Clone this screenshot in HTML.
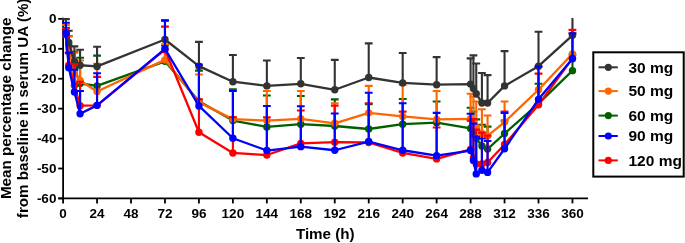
<!DOCTYPE html>
<html><head><meta charset="utf-8"><style>
html,body{margin:0;padding:0;background:#fff;overflow:hidden;width:685px;height:243px;}
svg{display:block;will-change:transform;}
text{font-family:"Liberation Sans",sans-serif;font-weight:bold;fill:#000;}
.tl{font-size:13.5px;}
.tt{font-size:15.2px;}
.lt{font-size:15.5px;}
</style></head><body>
<svg width="685" height="243" viewBox="0 0 685 243">
<path d="M63.10 17.85V198.43" stroke="#000" stroke-width="1.8"/>
<path d="M58.2 198.43H588" stroke="#000" stroke-width="1.8"/>
<path d="M58.2 18.85H63.10" stroke="#000" stroke-width="1.8"/>
<text x="56.4" y="23.05" text-anchor="end" class="tl">0</text>
<path d="M58.2 48.78H63.10" stroke="#000" stroke-width="1.8"/>
<text x="56.4" y="52.98" text-anchor="end" class="tl">-10</text>
<path d="M58.2 78.71H63.10" stroke="#000" stroke-width="1.8"/>
<text x="56.4" y="82.91" text-anchor="end" class="tl">-20</text>
<path d="M58.2 108.64H63.10" stroke="#000" stroke-width="1.8"/>
<text x="56.4" y="112.84" text-anchor="end" class="tl">-30</text>
<path d="M58.2 138.57H63.10" stroke="#000" stroke-width="1.8"/>
<text x="56.4" y="142.77" text-anchor="end" class="tl">-40</text>
<path d="M58.2 168.50H63.10" stroke="#000" stroke-width="1.8"/>
<text x="56.4" y="172.70" text-anchor="end" class="tl">-50</text>
<path d="M58.2 198.43H63.10" stroke="#000" stroke-width="1.8"/>
<text x="56.4" y="202.63" text-anchor="end" class="tl">-60</text>
<path d="M63.10 198.43V203.4" stroke="#000" stroke-width="1.8"/>
<text x="63.10" y="217.8" text-anchor="middle" class="tl">0</text>
<path d="M97.06 198.43V203.4" stroke="#000" stroke-width="1.8"/>
<text x="97.06" y="217.8" text-anchor="middle" class="tl">24</text>
<path d="M131.02 198.43V203.4" stroke="#000" stroke-width="1.8"/>
<text x="131.02" y="217.8" text-anchor="middle" class="tl">48</text>
<path d="M164.97 198.43V203.4" stroke="#000" stroke-width="1.8"/>
<text x="164.97" y="217.8" text-anchor="middle" class="tl">72</text>
<path d="M198.93 198.43V203.4" stroke="#000" stroke-width="1.8"/>
<text x="198.93" y="217.8" text-anchor="middle" class="tl">96</text>
<path d="M232.89 198.43V203.4" stroke="#000" stroke-width="1.8"/>
<text x="232.89" y="217.8" text-anchor="middle" class="tl">120</text>
<path d="M266.85 198.43V203.4" stroke="#000" stroke-width="1.8"/>
<text x="266.85" y="217.8" text-anchor="middle" class="tl">144</text>
<path d="M300.80 198.43V203.4" stroke="#000" stroke-width="1.8"/>
<text x="300.80" y="217.8" text-anchor="middle" class="tl">168</text>
<path d="M334.76 198.43V203.4" stroke="#000" stroke-width="1.8"/>
<text x="334.76" y="217.8" text-anchor="middle" class="tl">192</text>
<path d="M368.72 198.43V203.4" stroke="#000" stroke-width="1.8"/>
<text x="368.72" y="217.8" text-anchor="middle" class="tl">216</text>
<path d="M402.68 198.43V203.4" stroke="#000" stroke-width="1.8"/>
<text x="402.68" y="217.8" text-anchor="middle" class="tl">240</text>
<path d="M436.63 198.43V203.4" stroke="#000" stroke-width="1.8"/>
<text x="436.63" y="217.8" text-anchor="middle" class="tl">264</text>
<path d="M470.59 198.43V203.4" stroke="#000" stroke-width="1.8"/>
<text x="470.59" y="217.8" text-anchor="middle" class="tl">288</text>
<path d="M504.55 198.43V203.4" stroke="#000" stroke-width="1.8"/>
<text x="504.55" y="217.8" text-anchor="middle" class="tl">312</text>
<path d="M538.51 198.43V203.4" stroke="#000" stroke-width="1.8"/>
<text x="538.51" y="217.8" text-anchor="middle" class="tl">336</text>
<path d="M572.46 198.43V203.4" stroke="#000" stroke-width="1.8"/>
<text x="572.46" y="217.8" text-anchor="middle" class="tl">360</text>
<text x="325.3" y="239.3" text-anchor="middle" class="tt">Time (h)</text>
<text transform="translate(10.9 108.3) rotate(-90)" text-anchor="middle" class="tt">Mean percentage change</text>
<text transform="translate(28.1 108.3) rotate(-90)" text-anchor="middle" class="tt">from baseline in serum UA (%)</text>
<defs><clipPath id="pc"><rect x="0" y="18.0" width="600" height="200"/></clipPath></defs>
<g clip-path="url(#pc)">
<g stroke="#006000" fill="#006000">
<path d="M65.93 33.81V27.83M62.03 27.83H69.83" stroke-width="2.1" fill="none"/>
<path d="M68.76 45.79V36.21M64.86 36.21H72.66" stroke-width="2.1" fill="none"/>
<path d="M74.42 68.23V51.77M70.52 51.77H78.32" stroke-width="2.1" fill="none"/>
<path d="M80.08 83.50V57.76M76.18 57.76H83.98" stroke-width="2.1" fill="none"/>
<path d="M97.06 85.89V55.66M93.16 55.66H100.96" stroke-width="2.1" fill="none"/>
<path d="M164.97 61.35V45.49M161.07 45.49H168.87" stroke-width="2.1" fill="none"/>
<path d="M198.93 101.16V70.63M195.03 70.63H202.83" stroke-width="2.1" fill="none"/>
<path d="M232.89 120.61V89.19M228.99 89.19H236.79" stroke-width="2.1" fill="none"/>
<path d="M266.85 126.90V95.47M262.95 95.47H270.75" stroke-width="2.1" fill="none"/>
<path d="M300.80 124.20V96.07M296.90 96.07H304.70" stroke-width="2.1" fill="none"/>
<path d="M334.76 126.00V99.36M330.86 99.36H338.66" stroke-width="2.1" fill="none"/>
<path d="M368.72 128.99V104.15M364.82 104.15H372.62" stroke-width="2.1" fill="none"/>
<path d="M402.68 124.20V99.06M398.78 99.06H406.58" stroke-width="2.1" fill="none"/>
<path d="M436.63 122.71V101.46M432.73 101.46H440.53" stroke-width="2.1" fill="none"/>
<path d="M470.59 128.39V107.74M466.69 107.74H474.49" stroke-width="2.1" fill="none"/>
<path d="M473.42 134.08V111.63M469.52 111.63H477.32" stroke-width="2.1" fill="none"/>
<path d="M476.25 138.57V119.41M472.35 119.41H480.15" stroke-width="2.1" fill="none"/>
<path d="M481.91 146.05V124.80M478.01 124.80H485.81" stroke-width="2.1" fill="none"/>
<path d="M487.57 149.05V126.60M483.67 126.60H491.47" stroke-width="2.1" fill="none"/>
<path d="M504.55 133.48V120.61M500.65 120.61H508.45" stroke-width="2.1" fill="none"/>
<path d="M538.51 103.55V83.80M534.61 83.80H542.41" stroke-width="2.1" fill="none"/>
<path d="M572.46 70.63V54.77M568.56 54.77H576.36" stroke-width="2.1" fill="none"/>
<polyline points="65.93,33.81 68.76,45.79 74.42,68.23 80.08,83.50 97.06,85.89 164.97,61.35 198.93,101.16 232.89,120.61 266.85,126.90 300.80,124.20 334.76,126.00 368.72,128.99 402.68,124.20 436.63,122.71 470.59,128.39 473.42,134.08 476.25,138.57 481.91,146.05 487.57,149.05 504.55,133.48 538.51,103.55 572.46,70.63" stroke-width="2.3" fill="none" stroke-linejoin="round"/>
<circle cx="65.93" cy="33.81" r="3.7" stroke="none"/>
<circle cx="68.76" cy="45.79" r="3.7" stroke="none"/>
<circle cx="74.42" cy="68.23" r="3.7" stroke="none"/>
<circle cx="80.08" cy="83.50" r="3.7" stroke="none"/>
<circle cx="97.06" cy="85.89" r="3.7" stroke="none"/>
<circle cx="164.97" cy="61.35" r="3.7" stroke="none"/>
<circle cx="198.93" cy="101.16" r="3.7" stroke="none"/>
<circle cx="232.89" cy="120.61" r="3.7" stroke="none"/>
<circle cx="266.85" cy="126.90" r="3.7" stroke="none"/>
<circle cx="300.80" cy="124.20" r="3.7" stroke="none"/>
<circle cx="334.76" cy="126.00" r="3.7" stroke="none"/>
<circle cx="368.72" cy="128.99" r="3.7" stroke="none"/>
<circle cx="402.68" cy="124.20" r="3.7" stroke="none"/>
<circle cx="436.63" cy="122.71" r="3.7" stroke="none"/>
<circle cx="470.59" cy="128.39" r="3.7" stroke="none"/>
<circle cx="473.42" cy="134.08" r="3.7" stroke="none"/>
<circle cx="476.25" cy="138.57" r="3.7" stroke="none"/>
<circle cx="481.91" cy="146.05" r="3.7" stroke="none"/>
<circle cx="487.57" cy="149.05" r="3.7" stroke="none"/>
<circle cx="504.55" cy="133.48" r="3.7" stroke="none"/>
<circle cx="538.51" cy="103.55" r="3.7" stroke="none"/>
<circle cx="572.46" cy="70.63" r="3.7" stroke="none"/>
</g>
<g stroke="#ff6600" fill="#ff6600">
<path d="M65.93 33.81V24.84M62.03 24.84H69.83" stroke-width="2.1" fill="none"/>
<path d="M68.76 48.78V36.21M64.86 36.21H72.66" stroke-width="2.1" fill="none"/>
<path d="M74.42 72.72V52.67M70.52 52.67H78.32" stroke-width="2.1" fill="none"/>
<path d="M80.08 80.51V60.45M76.18 60.45H83.98" stroke-width="2.1" fill="none"/>
<path d="M97.06 91.58V63.74M93.16 63.74H100.96" stroke-width="2.1" fill="none"/>
<path d="M164.97 59.85V44.29M161.07 44.29H168.87" stroke-width="2.1" fill="none"/>
<path d="M198.93 102.35V74.52M195.03 74.52H202.83" stroke-width="2.1" fill="none"/>
<path d="M232.89 119.12V117.32M228.99 117.32H236.79" stroke-width="2.1" fill="none"/>
<path d="M266.85 120.61V90.98M262.95 90.98H270.75" stroke-width="2.1" fill="none"/>
<path d="M300.80 118.82V90.98M296.90 90.98H304.70" stroke-width="2.1" fill="none"/>
<path d="M334.76 123.31V103.25M330.86 103.25H338.66" stroke-width="2.1" fill="none"/>
<path d="M368.72 112.83V85.89M364.82 85.89H372.62" stroke-width="2.1" fill="none"/>
<path d="M402.68 116.42V84.70M398.78 84.70H406.58" stroke-width="2.1" fill="none"/>
<path d="M436.63 119.41V90.98M432.73 90.98H440.53" stroke-width="2.1" fill="none"/>
<path d="M470.59 118.82V93.68M466.69 93.68H474.49" stroke-width="2.1" fill="none"/>
<path d="M473.42 123.60V96.67M469.52 96.67H477.32" stroke-width="2.1" fill="none"/>
<path d="M476.25 127.20V101.46M472.35 101.46H480.15" stroke-width="2.1" fill="none"/>
<path d="M481.91 133.48V109.24M478.01 109.24H485.81" stroke-width="2.1" fill="none"/>
<path d="M487.57 135.88V115.52M483.67 115.52H491.47" stroke-width="2.1" fill="none"/>
<path d="M504.55 122.11V101.46M500.65 101.46H508.45" stroke-width="2.1" fill="none"/>
<path d="M538.51 89.78V66.74M534.61 66.74H542.41" stroke-width="2.1" fill="none"/>
<path d="M572.46 53.87V33.81M568.56 33.81H576.36" stroke-width="2.1" fill="none"/>
<polyline points="65.93,33.81 68.76,48.78 74.42,72.72 80.08,80.51 97.06,91.58 164.97,59.85 198.93,102.35 232.89,119.12 266.85,120.61 300.80,118.82 334.76,123.31 368.72,112.83 402.68,116.42 436.63,119.41 470.59,118.82 473.42,123.60 476.25,127.20 481.91,133.48 487.57,135.88 504.55,122.11 538.51,89.78 572.46,53.87" stroke-width="2.3" fill="none" stroke-linejoin="round"/>
<circle cx="65.93" cy="33.81" r="3.7" stroke="none"/>
<circle cx="68.76" cy="48.78" r="3.7" stroke="none"/>
<circle cx="74.42" cy="72.72" r="3.7" stroke="none"/>
<circle cx="80.08" cy="80.51" r="3.7" stroke="none"/>
<circle cx="97.06" cy="91.58" r="3.7" stroke="none"/>
<circle cx="164.97" cy="59.85" r="3.7" stroke="none"/>
<circle cx="198.93" cy="102.35" r="3.7" stroke="none"/>
<circle cx="232.89" cy="119.12" r="3.7" stroke="none"/>
<circle cx="266.85" cy="120.61" r="3.7" stroke="none"/>
<circle cx="300.80" cy="118.82" r="3.7" stroke="none"/>
<circle cx="334.76" cy="123.31" r="3.7" stroke="none"/>
<circle cx="368.72" cy="112.83" r="3.7" stroke="none"/>
<circle cx="402.68" cy="116.42" r="3.7" stroke="none"/>
<circle cx="436.63" cy="119.41" r="3.7" stroke="none"/>
<circle cx="470.59" cy="118.82" r="3.7" stroke="none"/>
<circle cx="473.42" cy="123.60" r="3.7" stroke="none"/>
<circle cx="476.25" cy="127.20" r="3.7" stroke="none"/>
<circle cx="481.91" cy="133.48" r="3.7" stroke="none"/>
<circle cx="487.57" cy="135.88" r="3.7" stroke="none"/>
<circle cx="504.55" cy="122.11" r="3.7" stroke="none"/>
<circle cx="538.51" cy="89.78" r="3.7" stroke="none"/>
<circle cx="572.46" cy="53.87" r="3.7" stroke="none"/>
</g>
<g stroke="#333333" fill="#333333">
<path d="M65.93 32.32V19.15M62.03 19.15H69.83" stroke-width="2.1" fill="none"/>
<path d="M68.76 42.49V30.82M64.86 30.82H72.66" stroke-width="2.1" fill="none"/>
<path d="M74.42 61.65V46.39M70.52 46.39H78.32" stroke-width="2.1" fill="none"/>
<path d="M80.08 65.24V49.68M76.18 49.68H83.98" stroke-width="2.1" fill="none"/>
<path d="M97.06 66.44V46.68M93.16 46.68H100.96" stroke-width="2.1" fill="none"/>
<path d="M164.97 39.50V20.65M161.07 20.65H168.87" stroke-width="2.1" fill="none"/>
<path d="M198.93 66.14V41.90M195.03 41.90H202.83" stroke-width="2.1" fill="none"/>
<path d="M232.89 81.70V55.07M228.99 55.07H236.79" stroke-width="2.1" fill="none"/>
<path d="M266.85 85.89V60.45M262.95 60.45H270.75" stroke-width="2.1" fill="none"/>
<path d="M300.80 83.80V58.06M296.90 58.06H304.70" stroke-width="2.1" fill="none"/>
<path d="M334.76 89.78V59.85M330.86 59.85H338.66" stroke-width="2.1" fill="none"/>
<path d="M368.72 77.51V43.39M364.82 43.39H372.62" stroke-width="2.1" fill="none"/>
<path d="M402.68 82.90V52.97M398.78 52.97H406.58" stroke-width="2.1" fill="none"/>
<path d="M436.63 84.70V57.16M432.73 57.16H440.53" stroke-width="2.1" fill="none"/>
<path d="M470.59 84.10V58.36M466.69 58.36H474.49" stroke-width="2.1" fill="none"/>
<path d="M473.42 88.59V55.36M469.52 55.36H477.32" stroke-width="2.1" fill="none"/>
<path d="M476.25 93.68V63.45M472.35 63.45H480.15" stroke-width="2.1" fill="none"/>
<path d="M481.91 102.95V73.02M478.01 73.02H485.81" stroke-width="2.1" fill="none"/>
<path d="M487.57 102.95V75.12M483.67 75.12H491.47" stroke-width="2.1" fill="none"/>
<path d="M504.55 85.89V51.17M500.65 51.17H508.45" stroke-width="2.1" fill="none"/>
<path d="M538.51 66.14V31.72M534.61 31.72H542.41" stroke-width="2.1" fill="none"/>
<path d="M572.46 35.31V9.87M568.56 9.87H576.36" stroke-width="2.1" fill="none"/>
<polyline points="65.93,32.32 68.76,42.49 74.42,61.65 80.08,65.24 97.06,66.44 164.97,39.50 198.93,66.14 232.89,81.70 266.85,85.89 300.80,83.80 334.76,89.78 368.72,77.51 402.68,82.90 436.63,84.70 470.59,84.10 473.42,88.59 476.25,93.68 481.91,102.95 487.57,102.95 504.55,85.89 538.51,66.14 572.46,35.31" stroke-width="2.3" fill="none" stroke-linejoin="round"/>
<circle cx="65.93" cy="32.32" r="3.7" stroke="none"/>
<circle cx="68.76" cy="42.49" r="3.7" stroke="none"/>
<circle cx="74.42" cy="61.65" r="3.7" stroke="none"/>
<circle cx="80.08" cy="65.24" r="3.7" stroke="none"/>
<circle cx="97.06" cy="66.44" r="3.7" stroke="none"/>
<circle cx="164.97" cy="39.50" r="3.7" stroke="none"/>
<circle cx="198.93" cy="66.14" r="3.7" stroke="none"/>
<circle cx="232.89" cy="81.70" r="3.7" stroke="none"/>
<circle cx="266.85" cy="85.89" r="3.7" stroke="none"/>
<circle cx="300.80" cy="83.80" r="3.7" stroke="none"/>
<circle cx="334.76" cy="89.78" r="3.7" stroke="none"/>
<circle cx="368.72" cy="77.51" r="3.7" stroke="none"/>
<circle cx="402.68" cy="82.90" r="3.7" stroke="none"/>
<circle cx="436.63" cy="84.70" r="3.7" stroke="none"/>
<circle cx="470.59" cy="84.10" r="3.7" stroke="none"/>
<circle cx="473.42" cy="88.59" r="3.7" stroke="none"/>
<circle cx="476.25" cy="93.68" r="3.7" stroke="none"/>
<circle cx="481.91" cy="102.95" r="3.7" stroke="none"/>
<circle cx="487.57" cy="102.95" r="3.7" stroke="none"/>
<circle cx="504.55" cy="85.89" r="3.7" stroke="none"/>
<circle cx="538.51" cy="66.14" r="3.7" stroke="none"/>
<circle cx="572.46" cy="35.31" r="3.7" stroke="none"/>
</g>
<g stroke="#ff0000" fill="#ff0000">
<path d="M65.93 34.71V28.43M62.03 28.43H69.83" stroke-width="2.1" fill="none"/>
<path d="M68.76 65.24V53.27M64.86 53.27H72.66" stroke-width="2.1" fill="none"/>
<path d="M74.42 85.59V64.34M70.52 64.34H78.32" stroke-width="2.1" fill="none"/>
<path d="M80.08 105.65V81.70M76.18 81.70H83.98" stroke-width="2.1" fill="none"/>
<path d="M97.06 105.35V76.91M93.16 76.91H100.96" stroke-width="2.1" fill="none"/>
<path d="M164.97 49.68V26.63M161.07 26.63H168.87" stroke-width="2.1" fill="none"/>
<path d="M198.93 132.28V99.36M195.03 99.36H202.83" stroke-width="2.1" fill="none"/>
<path d="M232.89 152.94V117.32M228.99 117.32H236.79" stroke-width="2.1" fill="none"/>
<path d="M266.85 155.03V117.32M262.95 117.32H270.75" stroke-width="2.1" fill="none"/>
<path d="M300.80 143.36V110.44M296.90 110.44H304.70" stroke-width="2.1" fill="none"/>
<path d="M334.76 142.16V105.65M330.86 105.65H338.66" stroke-width="2.1" fill="none"/>
<path d="M368.72 142.46V103.25M364.82 103.25H372.62" stroke-width="2.1" fill="none"/>
<path d="M402.68 152.94V111.63M398.78 111.63H406.58" stroke-width="2.1" fill="none"/>
<path d="M436.63 158.92V127.50M432.73 127.50H440.53" stroke-width="2.1" fill="none"/>
<path d="M470.59 149.34V120.61M466.69 120.61H474.49" stroke-width="2.1" fill="none"/>
<path d="M473.42 158.02V119.12M469.52 119.12H477.32" stroke-width="2.1" fill="none"/>
<path d="M476.25 164.01V129.59M472.35 129.59H480.15" stroke-width="2.1" fill="none"/>
<path d="M481.91 164.01V132.58M478.01 132.58H485.81" stroke-width="2.1" fill="none"/>
<path d="M487.57 162.51V135.58M483.67 135.58H491.47" stroke-width="2.1" fill="none"/>
<path d="M504.55 144.56V111.63M500.65 111.63H508.45" stroke-width="2.1" fill="none"/>
<path d="M538.51 104.75V73.62M534.61 73.62H542.41" stroke-width="2.1" fill="none"/>
<path d="M572.46 58.36V29.92M568.56 29.92H576.36" stroke-width="2.1" fill="none"/>
<polyline points="65.93,34.71 68.76,65.24 74.42,85.59 80.08,105.65 97.06,105.35 164.97,49.68 198.93,132.28 232.89,152.94 266.85,155.03 300.80,143.36 334.76,142.16 368.72,142.46 402.68,152.94 436.63,158.92 470.59,149.34 473.42,158.02 476.25,164.01 481.91,164.01 487.57,162.51 504.55,144.56 538.51,104.75 572.46,58.36" stroke-width="2.3" fill="none" stroke-linejoin="round"/>
<circle cx="65.93" cy="34.71" r="3.7" stroke="none"/>
<circle cx="68.76" cy="65.24" r="3.7" stroke="none"/>
<circle cx="74.42" cy="85.59" r="3.7" stroke="none"/>
<circle cx="80.08" cy="105.65" r="3.7" stroke="none"/>
<circle cx="97.06" cy="105.35" r="3.7" stroke="none"/>
<circle cx="164.97" cy="49.68" r="3.7" stroke="none"/>
<circle cx="198.93" cy="132.28" r="3.7" stroke="none"/>
<circle cx="232.89" cy="152.94" r="3.7" stroke="none"/>
<circle cx="266.85" cy="155.03" r="3.7" stroke="none"/>
<circle cx="300.80" cy="143.36" r="3.7" stroke="none"/>
<circle cx="334.76" cy="142.16" r="3.7" stroke="none"/>
<circle cx="368.72" cy="142.46" r="3.7" stroke="none"/>
<circle cx="402.68" cy="152.94" r="3.7" stroke="none"/>
<circle cx="436.63" cy="158.92" r="3.7" stroke="none"/>
<circle cx="470.59" cy="149.34" r="3.7" stroke="none"/>
<circle cx="473.42" cy="158.02" r="3.7" stroke="none"/>
<circle cx="476.25" cy="164.01" r="3.7" stroke="none"/>
<circle cx="481.91" cy="164.01" r="3.7" stroke="none"/>
<circle cx="487.57" cy="162.51" r="3.7" stroke="none"/>
<circle cx="504.55" cy="144.56" r="3.7" stroke="none"/>
<circle cx="538.51" cy="104.75" r="3.7" stroke="none"/>
<circle cx="572.46" cy="58.36" r="3.7" stroke="none"/>
</g>
<g stroke="#0000ff" fill="#0000ff">
<path d="M65.93 33.52V22.74M62.03 22.74H69.83" stroke-width="2.1" fill="none"/>
<path d="M68.76 67.64V52.67M64.86 52.67H72.66" stroke-width="2.1" fill="none"/>
<path d="M74.42 91.88V69.73M70.52 69.73H78.32" stroke-width="2.1" fill="none"/>
<path d="M80.08 113.73V90.98M76.18 90.98H83.98" stroke-width="2.1" fill="none"/>
<path d="M97.06 105.35V73.32M93.16 73.32H100.96" stroke-width="2.1" fill="none"/>
<path d="M164.97 48.78V20.35M161.07 20.35H168.87" stroke-width="2.1" fill="none"/>
<path d="M198.93 105.95V64.64M195.03 64.64H202.83" stroke-width="2.1" fill="none"/>
<path d="M232.89 138.27V90.98M228.99 90.98H236.79" stroke-width="2.1" fill="none"/>
<path d="M266.85 150.54V105.95M262.95 105.95H270.75" stroke-width="2.1" fill="none"/>
<path d="M300.80 146.65V106.25M296.90 106.25H304.70" stroke-width="2.1" fill="none"/>
<path d="M334.76 150.24V113.43M330.86 113.43H338.66" stroke-width="2.1" fill="none"/>
<path d="M368.72 141.56V92.78M364.82 92.78H372.62" stroke-width="2.1" fill="none"/>
<path d="M402.68 150.24V103.25M398.78 103.25H406.58" stroke-width="2.1" fill="none"/>
<path d="M436.63 155.63V112.83M432.73 112.83H440.53" stroke-width="2.1" fill="none"/>
<path d="M470.59 150.54V113.73M466.69 113.73H474.49" stroke-width="2.1" fill="none"/>
<path d="M473.42 160.42V123.60M469.52 123.60H477.32" stroke-width="2.1" fill="none"/>
<path d="M476.25 173.89V136.77M472.35 136.77H480.15" stroke-width="2.1" fill="none"/>
<path d="M481.91 170.30V138.57M478.01 138.57H485.81" stroke-width="2.1" fill="none"/>
<path d="M487.57 172.39V140.96M483.67 140.96H491.47" stroke-width="2.1" fill="none"/>
<path d="M504.55 148.75V112.83M500.65 112.83H508.45" stroke-width="2.1" fill="none"/>
<path d="M538.51 99.36V66.44M534.61 66.44H542.41" stroke-width="2.1" fill="none"/>
<path d="M572.46 58.66V33.22M568.56 33.22H576.36" stroke-width="2.1" fill="none"/>
<polyline points="65.93,33.52 68.76,67.64 74.42,91.88 80.08,113.73 97.06,105.35 164.97,48.78 198.93,105.95 232.89,138.27 266.85,150.54 300.80,146.65 334.76,150.24 368.72,141.56 402.68,150.24 436.63,155.63 470.59,150.54 473.42,160.42 476.25,173.89 481.91,170.30 487.57,172.39 504.55,148.75 538.51,99.36 572.46,58.66" stroke-width="2.3" fill="none" stroke-linejoin="round"/>
<circle cx="65.93" cy="33.52" r="3.7" stroke="none"/>
<circle cx="68.76" cy="67.64" r="3.7" stroke="none"/>
<circle cx="74.42" cy="91.88" r="3.7" stroke="none"/>
<circle cx="80.08" cy="113.73" r="3.7" stroke="none"/>
<circle cx="97.06" cy="105.35" r="3.7" stroke="none"/>
<circle cx="164.97" cy="48.78" r="3.7" stroke="none"/>
<circle cx="198.93" cy="105.95" r="3.7" stroke="none"/>
<circle cx="232.89" cy="138.27" r="3.7" stroke="none"/>
<circle cx="266.85" cy="150.54" r="3.7" stroke="none"/>
<circle cx="300.80" cy="146.65" r="3.7" stroke="none"/>
<circle cx="334.76" cy="150.24" r="3.7" stroke="none"/>
<circle cx="368.72" cy="141.56" r="3.7" stroke="none"/>
<circle cx="402.68" cy="150.24" r="3.7" stroke="none"/>
<circle cx="436.63" cy="155.63" r="3.7" stroke="none"/>
<circle cx="470.59" cy="150.54" r="3.7" stroke="none"/>
<circle cx="473.42" cy="160.42" r="3.7" stroke="none"/>
<circle cx="476.25" cy="173.89" r="3.7" stroke="none"/>
<circle cx="481.91" cy="170.30" r="3.7" stroke="none"/>
<circle cx="487.57" cy="172.39" r="3.7" stroke="none"/>
<circle cx="504.55" cy="148.75" r="3.7" stroke="none"/>
<circle cx="538.51" cy="99.36" r="3.7" stroke="none"/>
<circle cx="572.46" cy="58.66" r="3.7" stroke="none"/>
</g>
</g>
<rect x="593.3" y="52.3" width="90.4" height="124.3" fill="none" stroke="#000" stroke-width="2"/>
<path d="M598.5 67.30H617.8" stroke="#333333" stroke-width="2"/>
<circle cx="608.3" cy="67.30" r="3.6" fill="#333333"/>
<text x="628.5" y="72.50" class="lt">30 mg</text>
<path d="M598.5 91.10H617.8" stroke="#ff6600" stroke-width="2"/>
<circle cx="608.3" cy="91.10" r="3.6" fill="#ff6600"/>
<text x="628.5" y="96.30" class="lt">50 mg</text>
<path d="M598.5 115.60H617.8" stroke="#006000" stroke-width="2"/>
<circle cx="608.3" cy="115.60" r="3.6" fill="#006000"/>
<text x="628.5" y="120.80" class="lt">60 mg</text>
<path d="M598.5 136.00H617.8" stroke="#0000ff" stroke-width="2"/>
<circle cx="608.3" cy="136.00" r="3.6" fill="#0000ff"/>
<text x="628.5" y="141.20" class="lt">90 mg</text>
<path d="M598.5 160.40H617.8" stroke="#ff0000" stroke-width="2"/>
<circle cx="608.3" cy="160.40" r="3.6" fill="#ff0000"/>
<text x="628.5" y="165.60" class="lt">120 mg</text>
</svg>
</body></html>
